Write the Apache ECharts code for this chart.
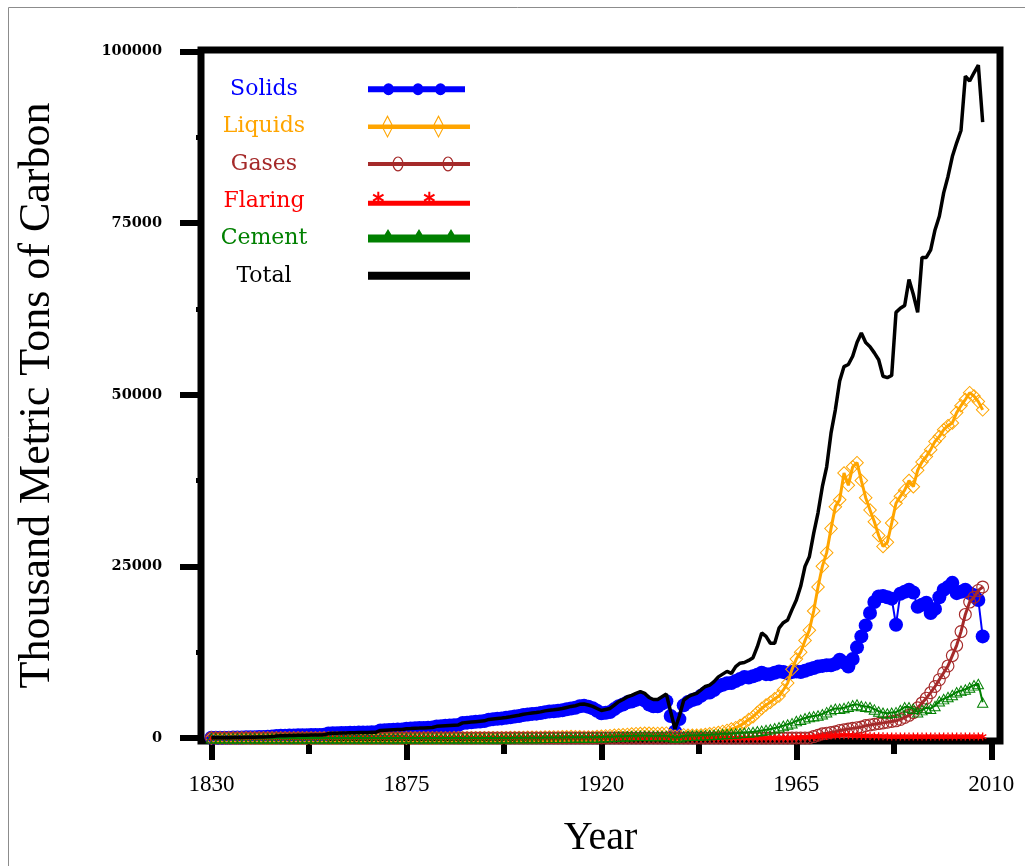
<!DOCTYPE html>
<html>
<head>
<meta charset="utf-8">
<script src="https://cdn.jsdelivr.net/npm/echarts@6/dist/echarts.min.js"></script>
<style>
html,body{margin:0;padding:0;background:#fff;}
#chart{width:1025px;height:866px;}
</style>
</head>
<body>
<div id="chart"></div>
<script>
// ---- Data (thousand metric tons of carbon), one value per year 1830..2008 ----
const firstYear = 1830, lastYear = 2008;
const years = [];
for (let y = firstYear; y <= lastYear; y++) years.push(y);

const xTickLabels = [1830, 1875, 1920, 1965, 2010];
const xMinorTicks = [1852.5, 1897.5, 1942.5, 1987.5];
const yTickLabels = [0, 25000, 50000, 75000, 100000];
const yMinorTicks = [12500, 37500, 62500, 87500];

const solids = [
  30,35,40,45,50,60,70,80,90,100,                 // 1830s
  110,130,150,170,200,300,320,340,350,360,        // 1840s
  380,390,400,420,430,440,460,650,680,700,        // 1850s
  720,740,760,770,790,800,810,830,850,1100,       // 1860s
  1130,1160,1190,1220,1250,1350,1380,1420,1440,1470, // 1870s
  1490,1510,1690,1725,1765,1805,1840,1880,2180,2235, // 1880s
  2295,2350,2410,2465,2665,2740,2810,2855,2930,3025, // 1890s
  3120,3205,3340,3425,3510,3545,3630,3765,3850,3885, // 1900s
  3970,4050,4180,4300,4410,4630,4690,4550,4330,3970, // 1910s
  3600,3680,3770,4210,4640,4870,5190,5310,5550,5750, // 1920s
  5460,4880,4630,4630,5000,5360,3200,950,2750,4750,  // 1930s
  5250,5520,5720,6160,6550,6620,6980,7540,7750,7980, // 1940s
  8000,8300,8600,8900,8800,9000,9200,9500,9300,9300, // 1950s
  9500,9700,9600,9400,9600,9700,9600,9800,10000,10200, // 1960s
  10400,10500,10600,10600,10800,11400,11000,10400,11500,13200, // 1970s
  14800,16400,18200,19800,20600,20700,20500,20300,16500,21000, // 1980s
  21300,21600,21200,19100,19400,19700,18200,18800,20500,21600, // 1990s
  22000,22600,21100,21300,21600,21100,20800,20100,14800        // 2000-2008
];
const liquids = [
  0,0,0,0,0,0,0,0,0,0,
  0,0,0,0,0,0,0,0,0,0,
  0,0,0,0,0,0,0,0,0,0,
  0,0,0,0,0,0,0,0,0,0,
  0,0,0,0,0,0,0,0,0,0,
  10,10,10,15,15,15,20,20,20,25,
  25,30,30,35,35,40,40,45,50,55,
  60,70,80,90,100,110,120,130,140,150,
  160,170,180,200,190,170,150,140,150,200,
  250,300,340,380,420,460,520,580,620,650,
  680,680,650,660,680,700,400,250,300,450,
  400,400,380,420,500,600,700,800,950,1100,
  1300,1500,1800,2200,2700,3100,3700,4300,4800,5200,
  5700,6100,7000,8000,10000,11500,12500,14200,15700,18500,
  22000,25000,27000,30500,33700,34700,38600,36800,39500,40100,
  37500,35000,33200,31500,29500,27900,28500,31300,34200,35200,
  36100,37500,36600,39000,40200,41000,42000,43200,43900,44900,
  45500,45900,47400,48400,49300,50300,49800,49000,47800
];
const gases = [
  0,0,0,0,0,0,0,0,0,0,
  0,0,0,0,0,0,0,0,0,0,
  0,0,0,0,0,0,0,0,0,0,
  0,0,0,0,0,0,0,0,0,0,
  0,0,0,0,0,0,0,0,0,0,
  0,0,0,0,0,0,0,0,0,0,
  0,0,0,0,0,0,0,0,0,0,
  0,0,0,0,0,0,0,0,0,0,
  0,0,0,0,0,0,0,0,0,0,
  0,0,0,0,0,0,0,0,0,0,
  0,0,0,0,0,0,0,0,0,0,
  0,0,0,0,0,0,0,0,0,0,
  0,0,0,0,0,0,0,0,0,0,
  0,0,0,0,0,0,0,0,0,200,
  400,600,700,800,900,1100,1200,1300,1400,1500,
  1600,1800,1900,2000,2100,2200,2300,2400,2500,2700,
  3000,3300,3700,4400,5100,5800,6600,7500,8500,9500,
  10500,12000,13500,15500,18000,19800,20500,21500,22000
];
const flaring = [
  0,0,0,0,0,0,0,0,0,0,
  0,0,0,0,0,0,0,0,0,0,
  0,0,0,0,0,0,0,0,0,0,
  0,0,0,0,0,0,0,0,0,0,
  0,0,0,0,0,0,0,0,0,0,
  0,0,0,0,0,0,0,0,0,0,
  0,0,0,0,0,0,0,0,0,0,
  0,0,0,0,0,0,0,0,0,0,
  0,0,0,0,0,0,0,0,0,0,
  0,0,0,0,0,0,0,0,0,0,
  0,0,0,0,0,0,0,0,0,0,
  0,0,0,0,0,0,0,0,0,0,
  0,0,0,0,0,0,0,0,0,0,
  0,0,0,0,0,50,100,120,150,150,
  200,250,300,350,350,400,400,400,350,350,
  300,300,300,250,250,250,200,200,200,200,
  200,200,200,200,200,200,200,200,200,200,
  200,200,200,200,200,200,200,200,200
];
const cement = [
  0,0,0,0,0,0,0,0,0,0,
  0,0,0,0,0,0,0,0,0,0,
  0,0,0,0,0,0,0,0,0,0,
  0,0,0,0,0,0,0,0,0,0,
  0,0,0,0,0,0,0,0,0,0,
  0,0,0,0,0,0,0,0,0,0,
  0,0,0,0,0,0,0,0,0,0,
  20,25,30,35,40,45,50,55,60,65,
  70,80,90,100,100,100,110,110,120,130,
  150,170,190,210,240,270,290,310,330,350,
  360,340,320,310,320,340,200,100,150,300,
  350,380,400,420,450,480,520,560,600,620,
  650,700,750,800,850,900,1000,1100,1200,1300,
  1450,1600,1800,2000,2200,2500,2700,2900,3100,3200,
  3300,3500,3800,4100,4300,4300,4400,4600,4800,4900,
  4700,4600,4500,4200,3900,3700,3600,3700,3800,4100,
  4500,4500,4300,3800,4100,4400,4300,4700,5400,5700,
  6000,6300,6700,6900,7100,7400,7700,7900,5200
];
const total = [
  30,35,40,45,50,60,70,80,90,100,
  110,130,150,170,200,300,320,340,350,360,
  380,390,400,420,430,440,460,650,680,700,
  720,740,760,770,790,800,810,830,850,1100,
  1130,1160,1190,1220,1250,1350,1380,1420,1440,1470,
  1500,1520,1700,1740,1780,1820,1860,1900,2200,2260,
  2320,2380,2440,2500,2700,2780,2850,2900,2980,3080,
  3200,3300,3450,3550,3650,3700,3800,3950,4050,4100,
  4200,4300,4450,4600,4700,4900,4950,4800,4600,4300,
  4000,4150,4300,4800,5300,5600,6000,6200,6500,6750,
  6500,5900,5600,5600,6000,6400,3800,1300,3200,5500,
  6000,6300,6500,7000,7500,7700,8200,8900,9300,9700,
  9400,10400,10900,11000,11300,11700,13300,15300,14800,13800,
  13800,16000,16800,17200,18700,20100,22100,25000,26400,29800,
  32800,36600,39500,44400,47800,52000,54100,54400,55600,57600,
  59000,57600,57000,56100,55100,52700,52500,52800,62000,62600,
  63000,66800,64600,62000,70000,70000,71100,74000,76000,79400,
  81800,84700,86700,88500,96400,95700,96900,98000,89700
];

// ---- styling helpers ----
const C = {solids:'#0000FF', liquids:'#FFA500', gases:'#A52A2A', flaring:'#FF0000', cement:'#008000', total:'#000000'};
function pairs(vals){ return years.map((y,i)=>[y, vals[i]]); }

function starPath(cx, cy, r, w){
  const f = n => n.toFixed(2);
  const dx = r*0.866, dy = r*0.5, px = w*0.5, py = w*0.866;
  let p = `M${f(cx-w)},${f(cy-r)} L${f(cx+w)},${f(cy-r)} L${f(cx+w)},${f(cy+r)} L${f(cx-w)},${f(cy+r)} Z `;
  p += `M${f(cx+dx+px)},${f(cy+dy-py)} L${f(cx+dx-px)},${f(cy+dy+py)} L${f(cx-dx-px)},${f(cy-dy+py)} L${f(cx-dx+px)},${f(cy-dy-py)} Z `;
  p += `M${f(cx-dx+px)},${f(cy+dy+py)} L${f(cx-dx-px)},${f(cy+dy-py)} L${f(cx+dx-px)},${f(cy-dy-py)} L${f(cx+dx+px)},${f(cy-dy+py)} Z `;
  return p;
}
const corners = 'M0,0 L0.02,0 L0.02,0.02 Z M101.98,23.98 L102,23.98 L102,24 Z ';

const sym = {
  liquids: 'path://M0,-6 L6,0 L0,6 L-6,0 Z M0,-4.8 L-4.8,0 L0,4.8 L4.8,0 Z',
  gases: 'path://M-5,0 A5,5 0 1,1 5,0 A5,5 0 1,1 -5,0 Z M-4.1,0 A4.1,4.1 0 1,0 4.1,0 A4.1,4.1 0 1,0 -4.1,0 Z',
  cement: 'path://M0,-5 L5.5,4.5 L-5.5,4.5 Z M0,-3.3 L-3.9,3.7 L3.9,3.7 Z',
  flaring: 'path://' + starPath(0, 0, 5, 0.8)
};

const icons = {
  solids: 'path://' + corners + 'M0,9 L97,9 L97,15 L0,15 Z ' +
    'M15,12 A5.5,6 0 1,1 26,12 A5.5,6 0 1,1 15,12 Z ' +
    'M44.5,12 A5.5,6 0 1,1 55.5,12 A5.5,6 0 1,1 44.5,12 Z ' +
    'M67,12 A5.5,6 0 1,1 78,12 A5.5,6 0 1,1 67,12 Z',
  liquids: 'path://' + corners + 'M0,10 L102,10 L102,14.5 L0,14.5 Z ' +
    'M19.5,0.5 L25.5,12 L19.5,23.5 L13.5,12 Z M19.5,2.8 L14.7,12 L19.5,21.2 L24.3,12 Z ' +
    'M70.5,0.5 L76.5,12 L70.5,23.5 L64.5,12 Z M70.5,2.8 L65.7,12 L70.5,21.2 L75.3,12 Z',
  gases: 'path://' + corners + 'M0,10 L102,10 L102,14 L0,14 Z ' +
    'M24.5,12 A5.5,7.5 0 1,1 35.5,12 A5.5,7.5 0 1,1 24.5,12 Z M25.7,12 A4.3,6.3 0 1,0 34.3,12 A4.3,6.3 0 1,0 25.7,12 Z ' +
    'M74.5,12 A5.5,7.5 0 1,1 85.5,12 A5.5,7.5 0 1,1 74.5,12 Z M75.7,12 A4.3,6.3 0 1,0 84.3,12 A4.3,6.3 0 1,0 75.7,12 Z',
  flaring: 'path://' + corners + 'M0,11.5 L102,11.5 L102,16.5 L0,16.5 Z ' + starPath(10.3, 8.5, 6, 1) + starPath(61.3, 8.5, 6, 1),
  cement: 'path://' + corners + 'M0,8 L102,8 L102,16 L0,16 Z ' +
    'M20,2.5 L27,14 L13,14 Z M51,2.5 L58,14 L44,14 Z M83,2.5 L90,14 L76,14 Z',
  total: 'path://' + corners + 'M0,8 L102,8 L102,16 L0,16 Z'
};

const names = {solids:'Solids', liquids:'Liquids', gases:'Gases', flaring:'Flaring', cement:'Cement', total:'Total'};
const order = ['solids','liquids','gases','flaring','cement','total'];
const values = {solids, liquids, gases, flaring, cement, total};

const seriesCfg = {
  solids:  {symbol:'circle', symbolSize:14, width:2},
  liquids: {symbol:sym.liquids, symbolSize:14, width:3},
  gases:   {symbol:sym.gases, symbolSize:13, width:3},
  flaring: {symbol:sym.flaring, symbolSize:8, width:2},
  cement:  {symbol:sym.cement, symbolSize:[12,11], width:2},
  total:   {symbol:'none', symbolSize:0, width:3.5}
};

const series = order.map((k, i) => ({
  name: names[k],
  type: 'line',
  data: pairs(values[k]),
  symbol: seriesCfg[k].symbol,
  symbolSize: seriesCfg[k].symbolSize,
  showSymbol: k !== 'total',
  lineStyle: {color: C[k], width: seriesCfg[k].width},
  itemStyle: {color: C[k], borderWidth: 0},
  emphasis: {disabled: true},
  z: 2 + i,
  xAxisIndex: 0, yAxisIndex: 0
}));

const xMin = 1827.6, xMax = 2012.0;
const yMin = -440, yMax = 100220;
const plain = v => String(v);

const chart = echarts.init(document.getElementById('chart'), null, {renderer: 'canvas'});
chart.setOption({
  animation: false,
  backgroundColor: '#fff',
  graphic: [{
    type: 'rect', left: 6, top: 5, z: 100, silent: true,
    shape: {width: 1040, height: 880},
    style: {fill: 'none', stroke: '#8c8c8c', lineWidth: 1}
  }],
  grid: {left: 201, right: 25, top: 50, bottom: 125, show: true, borderColor: '#000', borderWidth: 7, backgroundColor: 'transparent'},
  legend: {
    orient: 'vertical', align: 'right', left: 165, top: 77.3, padding: 0,
    itemGap: 13.3, itemWidth: 102, itemHeight: 24, selectedMode: false,
    itemStyle: {borderWidth: 0},
    formatter: '{t|{name}}',
    textStyle: {fontFamily: 'DejaVu Serif', fontSize: 22, rich: {t: {width: 198, align: 'center', fontFamily: 'DejaVu Serif', fontSize: 22, lineHeight: 24}}},
    data: order.map(k => ({name: names[k], icon: icons[k], itemStyle: {color: C[k], borderWidth: 0}, textStyle: {color: C[k]}}))
  },
  xAxis: [
    {
      type: 'value', min: xMin, max: xMax, position: 'bottom',
      name: 'Year', nameLocation: 'middle', nameGap: 77,
      nameTextStyle: {fontFamily: 'Liberation Serif', fontSize: 40, color: '#000'},
      axisLine: {show: false},
      splitLine: {show: false},
      axisTick: {show: true, customValues: xTickLabels, length: 22, lineStyle: {color: '#000', width: 6}},
      axisLabel: {show: true, customValues: xTickLabels, formatter: plain, margin: 32, fontFamily: 'Liberation Serif', fontSize: 23, color: '#000'}
    },
    {
      type: 'value', min: xMin, max: xMax, position: 'bottom',
      axisLine: {show: false}, splitLine: {show: false},
      axisTick: {show: true, customValues: xMinorTicks, length: 16, lineStyle: {color: '#000', width: 6}},
      axisLabel: {show: false}
    }
  ],
  yAxis: [
    {
      type: 'value', min: yMin, max: yMax, position: 'left',
      name: 'Thousand Metric Tons of Carbon', nameLocation: 'middle', nameRotate: 90, nameGap: 142,
      nameTextStyle: {fontFamily: 'Liberation Serif', fontSize: 44, color: '#000'},
      axisLine: {show: false}, splitLine: {show: false},
      axisTick: {show: true, customValues: yTickLabels, length: 21, lineStyle: {color: '#000', width: 6}},
      axisLabel: {show: true, customValues: yTickLabels, formatter: plain, margin: 39, fontFamily: 'DejaVu Serif', fontWeight: 'bold', fontSize: 14.5, color: '#000'}
    },
    {
      type: 'value', min: yMin, max: yMax, position: 'left',
      axisLine: {show: false}, splitLine: {show: false},
      axisTick: {show: true, customValues: yMinorTicks, length: 5, lineStyle: {color: '#000', width: 5}},
      axisLabel: {show: false}
    }
  ],
  series: series
});
</script>
</body>
</html>
